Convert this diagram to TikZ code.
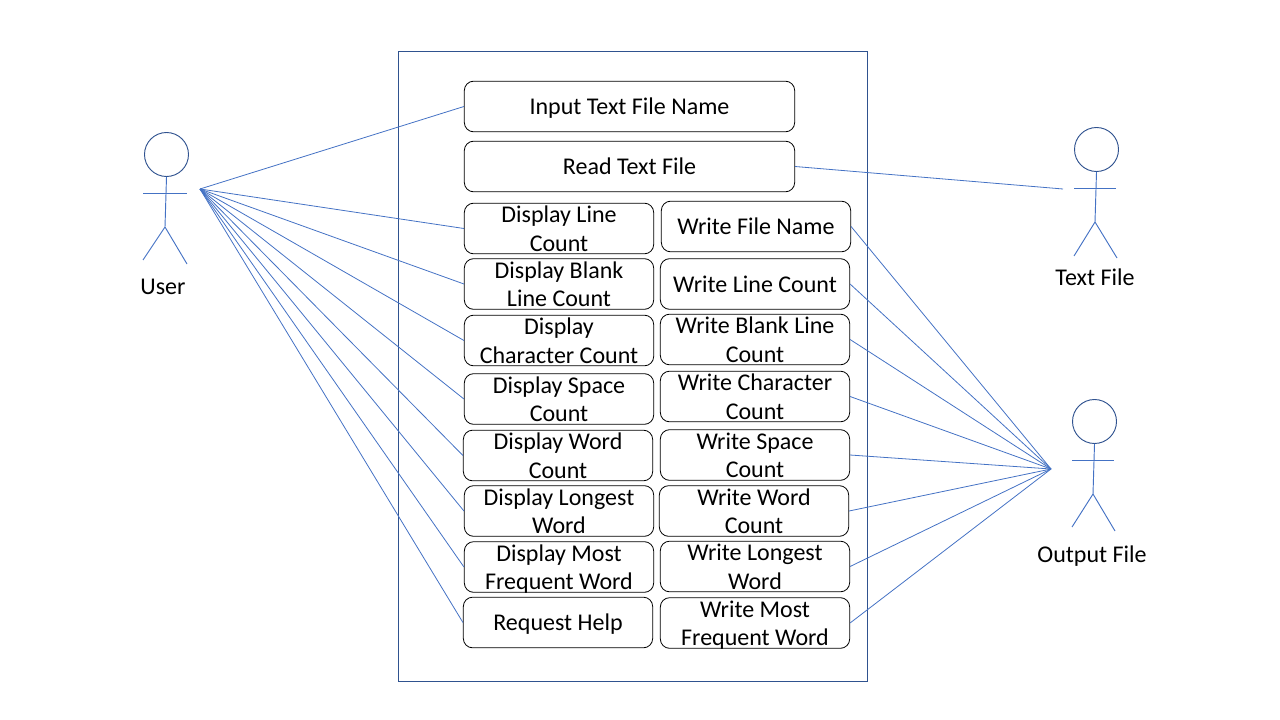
\documentclass[tikz,border=0pt]{standalone}
\usepackage{fontspec}
\setmainfont{Carlito}
\definecolor{link-blue}{HTML}{4472C4}
\definecolor{frame-blue}{HTML}{2F528F}
\tikzset{
    use-case/.style = {draw=black, fill=white, line width=0.6pt, rectangle, rounded corners=7pt, minimum width=142pt, minimum height=38pt, inner sep=0pt, align=center, font=\fontsize{18}{21.4}\selectfont, text height=34.5pt, text depth=0.3pt},
    one-line-case/.style = {use-case, text height=17pt, text depth=4.5pt},
    wide-case/.style = {one-line-case, minimum width=247.75pt},
    system-box/.style = {draw=frame-blue, line width=0.6pt, rectangle, minimum width=351.75pt, minimum height=472.75pt},
    actor-head/.style = {draw=frame-blue, line width=0.7pt, circle, minimum size=33pt, inner sep=0pt},
    actor-line/.style = {draw=link-blue, line width=0.7pt},
    actor-label/.style = {font=\fontsize{18}{21.4}\selectfont},
    link/.style = {draw=link-blue, line width=0.6pt},
}
\begin{document}
\begin{tikzpicture}[x=0.75pt, y=-0.75pt]
\useasboundingbox (0,0) rectangle (1280,720);
\node [system-box] (system) at (632.5,366.5) {};

\node [wide-case] (input) at (629.5,106.5) {Input Text File Name};
\node [wide-case] (read) at (629.5,166.5) {Read Text File};

\node [use-case] (disp-line) at (559,228.5) {Display Line\\Count};
\node [use-case] (disp-blank) at (559,284) {Display Blank\\Line Count};
\node [use-case] (disp-char) at (559,340.5) {Display\\Character Count};
\node [use-case] (disp-space) at (559,399) {Display Space\\Count};
\node [use-case] (disp-word) at (558,455.5) {Display Word\\Count};
\node [use-case] (disp-long) at (559,511) {Display Longest\\Word};
\node [use-case] (disp-most) at (559,567) {Display Most\\Frequent Word};
\node [one-line-case] (help) at (558,622.5) {Request Help};

\node [one-line-case] (write-name) at (756,226.5) {Write File Name};
\node [one-line-case] (write-line) at (755,284) {Write Line Count};
\node [use-case] (write-blank) at (755,339.5) {Write Blank Line\\Count};
\node [use-case] (write-char) at (755,396.5) {Write Character\\Count};
\node [use-case] (write-space) at (755,455) {Write Space\\Count};
\node [use-case] (write-word) at (754,511) {Write Word\\Count};
\node [use-case] (write-long) at (755,566.5) {Write Longest\\Word};
\node [use-case] (write-most) at (755,623) {Write Most\\Frequent Word};

% user
\node [actor-head] (user-head) at (166.5,154.5) {};
\draw [actor-line] (user-head.south) -- (165,227) -- (143,260);
\draw [actor-line] (165,227) -- (187,264);
\draw [actor-line] (143,193) -- (187,193);
\node [actor-label] (user-label) at (163,287) {User};
\coordinate (user-end) at (200,189);

% text file
\node [actor-head] (text-head) at (1096.5,149.5) {};
\draw [actor-line] (text-head.south) -- (1095,222) -- (1074,256);
\draw [actor-line] (1095,222) -- (1117,258);
\draw [actor-line] (1074,188) -- (1116,188);
\node [actor-label] (text-label) at (1095,277) {Text File};
\coordinate (text-end) at (1063,189);

% output file
\node [actor-head] (output-head) at (1094.5,421.5) {};
\draw [actor-line] (output-head.south) -- (1093,494) -- (1072,527);
\draw [actor-line] (1093,494) -- (1115,531);
\draw [actor-line] (1072,460) -- (1114,460);
\node [actor-label] (output-label) at (1092,556) {Output File};
\coordinate (output-end) at (1051,469);

\foreach \name in {input, disp-line, disp-blank, disp-char, disp-space, disp-word, disp-long, disp-most, help}
    \draw [link] (user-end) -- (\name.west);
\draw [link] (read.east) -- (text-end);
\foreach \name in {write-name, write-line, write-blank, write-char, write-space, write-word, write-long, write-most}
    \draw [link] (\name.east) -- (output-end);
\end{tikzpicture}
\end{document}
